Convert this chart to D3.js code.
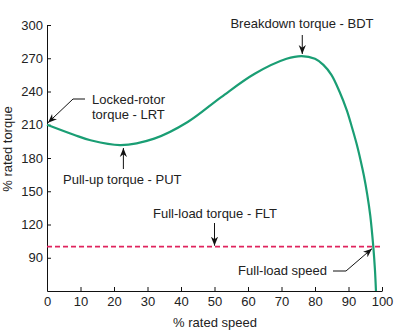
<!DOCTYPE html>
<html>
<head>
<meta charset="utf-8">
<script src="https://cdn.jsdelivr.net/npm/d3@7"></script>
<style>
  body { margin: 0; background: #fff; }
  text { font-family: "Liberation Sans", Arial, sans-serif; fill: #222; }
</style>
</head>
<body>
<script>
// torque-speed curve
var speed  = [0, 8, 13, 22, 32, 42, 52, 62, 71.5, 76, 80, 82.5, 84.9, 87.3, 89.5, 91, 92.4, 93.6, 94.6, 95.6, 96.5, 97.4, 97.9, 98.2];
var torque = [210, 201, 196, 191.7, 197.5, 212.5, 235, 256, 269.5, 272, 269.5, 264, 255, 240, 223, 208, 193, 178, 164, 147, 128, 100, 79, 60];

var xTicks = [0, 10, 20, 30, 40, 50, 60, 70, 80, 90, 100];
var yTicks = [90, 120, 150, 180, 210, 240, 270, 300];

var fullLoadTorque = 100;

var w = 403;
var h = 333;
var margin = { top: 25, right: 21, bottom: 42, left: 47 };

var svg = d3.select("body")
  .append("svg")
  .attr("width", w)
  .attr("height", h);

var x = d3.scaleLinear()
  .domain([0, 100])
  .range([margin.left, w - margin.right]);

var y = d3.scaleLinear()
  .domain([60, 300])
  .range([h - margin.bottom, margin.top]);

// arrow heads
svg.append("defs").append("marker")
  .attr("id", "arrow")
  .attr("viewBox", "0 0 10 10")
  .attr("refX", 10)
  .attr("refY", 5)
  .attr("markerWidth", 9)
  .attr("markerHeight", 9)
  .attr("markerUnits", "userSpaceOnUse")
  .attr("orient", "auto")
  .append("path")
  .attr("d", "M0,1 L10,5 L0,9 L3,5 Z")
  .attr("fill", "#111");

// axes
var xAxis = svg.append("g")
  .attr("transform", "translate(0," + y(60) + ")")
  .call(d3.axisBottom(x).tickValues(xTicks).tickSizeInner(-4).tickSizeOuter(0).tickPadding(6));

var yAxis = svg.append("g")
  .attr("transform", "translate(" + x(0) + ",0)")
  .call(d3.axisLeft(y).tickValues(yTicks).tickSizeInner(-4).tickSizeOuter(0).tickPadding(4));

[xAxis, yAxis].forEach(function(g) {
  g.selectAll("path, line").attr("stroke", "#111");
  g.selectAll("text")
    .attr("font-size", "13px")
    .attr("font-family", "Liberation Sans, Arial, sans-serif")
    .attr("fill", "#222");
});

svg.append("text")
  .text("% rated speed")
  .attr("x", 215)
  .attr("y", 327)
  .attr("font-size", "13px")
  .attr("text-anchor", "middle");

svg.append("text")
  .text("% rated torque")
  .attr("transform", "translate(12,149) rotate(-90)")
  .attr("font-size", "13px")
  .attr("text-anchor", "middle");

// full-load torque line
svg.append("line")
  .attr("x1", x(0))
  .attr("x2", x(100))
  .attr("y1", y(fullLoadTorque))
  .attr("y2", y(fullLoadTorque))
  .attr("stroke", "#e0245e")
  .attr("stroke-width", 1.6)
  .attr("stroke-dasharray", "5,3");

// torque curve
var line = d3.line()
  .x(function(d, i) { return x(speed[i]); })
  .y(function(d) { return y(d); })
  .curve(d3.curveCatmullRom.alpha(0.5));

svg.append("path")
  .datum(torque)
  .attr("d", line)
  .attr("fill", "none")
  .attr("stroke", "#1a9e74")
  .attr("stroke-width", 2.2);

// annotations
function label(str, tx, ty, anchor) {
  svg.append("text")
    .text(str)
    .attr("x", tx)
    .attr("y", ty)
    .attr("font-size", "13px")
    .attr("text-anchor", anchor || "start");
}

function arrow(points) {
  svg.append("path")
    .attr("d", d3.line()(points))
    .attr("fill", "none")
    .attr("stroke", "#111")
    .attr("stroke-width", 1)
    .attr("marker-end", "url(#arrow)");
}

// breakdown torque
label("Breakdown torque - BDT", 302, 28, "middle");
arrow([[x(76.2), 35], [x(76.2), y(272) - 2]]);

// locked-rotor torque
label("Locked-rotor", 92, 104);
label("torque - LRT", 92, 119);
arrow([[85, 99], [73, 99], [x(0) + 1, y(210) - 2]]);

// pull-up torque
label("Pull-up torque - PUT", 63, 184);
arrow([[x(22.8), 169], [x(22.8), y(191.7) + 3]]);

// full-load torque
label("Full-load torque - FLT", 153, 218);
arrow([[x(50), 223], [x(50), y(fullLoadTorque) - 1]]);

// full-load speed
label("Full-load speed", 327, 275, "end");
arrow([[333, 271], [346, 271], [x(97.3) - 1, y(fullLoadTorque) + 2]]);
</script>
</body>
</html>
